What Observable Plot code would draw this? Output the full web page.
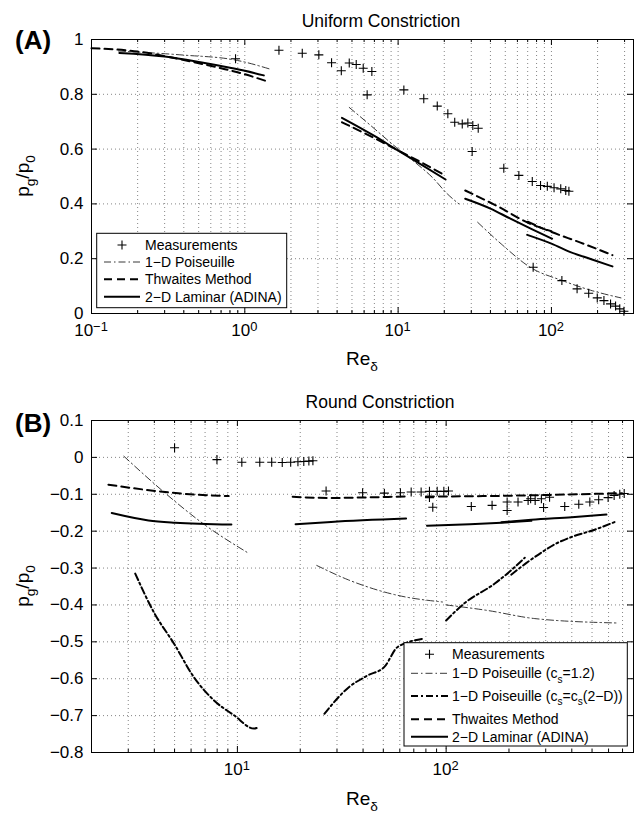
<!DOCTYPE html>
<html>
<head>
<meta charset="utf-8">
<script src="https://cdn.jsdelivr.net/npm/d3@7"></script>
<script src="https://cdn.jsdelivr.net/npm/@observablehq/plot@0.6"></script>
<style>
  body { margin: 0; background: #fff; }
  #chart { width: 637px; }
  #chart svg { display: block; }
</style>
</head>
<body>
<div id="chart"></div>
<script>
// ---------- (A) Uniform constriction: pg/p0 against Re_delta ----------
const uniformMeasured = [
  [0.87, 0.93], [1.67, 0.961], [2.37, 0.95], [3.04, 0.944], [3.68, 0.915],
  [4.26, 0.886], [4.8, 0.914], [5.33, 0.909], [5.92, 0.895], [6.74, 0.883],
  [6.28, 0.798], [10.9, 0.816], [14.7, 0.784], [18.0, 0.757], [21.1, 0.729],
  [23.4, 0.698], [26.2, 0.692], [28.5, 0.695], [30.7, 0.686], [33.3, 0.676],
  [30.4, 0.591], [48.9, 0.53], [61.3, 0.504], [75, 0.482], [84.9, 0.467],
  [94, 0.464], [104, 0.459], [115, 0.455], [124, 0.449], [130, 0.446],
  [76, 0.169], [117, 0.12], [147, 0.09], [175, 0.074], [199, 0.057],
  [220, 0.047], [243, 0.035], [262, 0.027], [279, 0.017], [297, 0.008]
];
const uniformPoiseuille = [
  [[0.15, 0.958], [0.4, 0.943], [0.85, 0.926], [1.01, 0.917], [1.44, 0.893]],
  [[4.8, 0.752], [6.5, 0.69], [9.4, 0.613], [13, 0.55], [16.7, 0.497], [20.9, 0.437], [24.9, 0.40]],
  [[33, 0.333], [47, 0.254], [73.5, 0.167], [118, 0.12], [180, 0.085], [284, 0.057]]
];
const uniformThwaites = [
  [[0.1, 0.968], [0.2, 0.956], [0.4, 0.925], [0.7, 0.895], [1.0, 0.873], [1.4, 0.847]],
  [[4.3, 0.698], [7, 0.64], [10, 0.595], [14, 0.553], [20.4, 0.503]],
  [[27.4, 0.449], [45, 0.39], [73, 0.327], [100, 0.30]],
  [[70, 0.335], [89, 0.309], [163, 0.254], [250, 0.213]]
];
const uniformLaminar = [
  [[0.152, 0.951], [0.3, 0.938], [0.514, 0.917], [0.8, 0.897], [1.0, 0.886], [1.33, 0.869]],
  [[4.3, 0.714], [7, 0.648], [9.9, 0.596], [14, 0.545], [20.4, 0.489]],
  [[27.4, 0.419], [40, 0.383], [54, 0.346], [75, 0.307], [101, 0.273]],
  [[69.5, 0.287], [100, 0.255], [133, 0.224], [180, 0.199], [250, 0.172]]
];
const uniformYTicks = [0, 0.2, 0.4, 0.6, 0.8, 1];
const uniformXTicks = [0.1, 1, 10, 100];

// ---------- (B) Round constriction ----------
const roundMeasured = [
  [5.0, 0.026], [7.98, -0.006], [10.5, -0.013], [12.8, -0.013], [14.6, -0.013],
  [16.4, -0.014], [18.0, -0.013], [19.5, -0.012], [20.8, -0.011], [22.0, -0.01],
  [23.0, -0.009], [26.6, -0.091], [39.8, -0.096], [50.6, -0.097], [60.4, -0.096],
  [68, -0.094], [75.9, -0.094], [83.2, -0.092], [90.6, -0.092], [97.5, -0.092],
  [102.6, -0.091], [83.2, -0.109], [86.3, -0.135], [132, -0.133], [166, -0.13],
  [196, -0.121], [196, -0.144], [221, -0.121], [247, -0.117], [254, -0.112],
  [267, -0.117], [286, -0.112], [293, -0.136], [313, -0.108], [370, -0.133],
  [432, -0.127], [488, -0.121], [538, -0.115], [597, -0.109], [638, -0.103],
  [679, -0.1], [713, -0.098]
];
const roundPoiseuille = [
  [[2.86, 0.003], [4.51, -0.097], [7.02, -0.184], [11.1, -0.257]],
  [[24, -0.293], [34, -0.332], [58.6, -0.374], [96, -0.392]],
  [[100, -0.4], [158, -0.415], [266, -0.437], [667, -0.449]]
];
const roundPoiseuille2D = [
  [[3.24, -0.315], [3.98, -0.42], [4.97, -0.505], [6.19, -0.596], [7.73, -0.659], [9.63, -0.699], [12.0, -0.735], [12.7, -0.731]],
  [[26.1, -0.695], [34.2, -0.623], [42.1, -0.591], [50.6, -0.568], [58.6, -0.514], [78.7, -0.491]],
  [[100, -0.442], [122, -0.396], [171, -0.342], [205, -0.306], [238, -0.272]],
  [[205, -0.318], [240, -0.288], [286, -0.258], [330, -0.236], [398, -0.216], [515, -0.196], [643, -0.175]]
];
const roundThwaites = [
  [[2.41, -0.074], [4.04, -0.091], [6.28, -0.101], [9.08, -0.105]],
  [[18.4, -0.107], [28, -0.11], [45, -0.108], [65, -0.106]],
  [[80, -0.106], [150, -0.105], [300, -0.102], [692, -0.097]]
];
const roundLaminar = [
  [[2.5, -0.151], [3.75, -0.171], [5.03, -0.177], [9.36, -0.182]],
  [[19, -0.181], [28.1, -0.175], [64.3, -0.166]],
  [[81, -0.185], [130, -0.181], [184, -0.177], [256, -0.172]],
  [[184, -0.176], [256, -0.169], [400, -0.162], [586, -0.155]]
];
const roundYTicks = [0.1, 0, -0.1, -0.2, -0.3, -0.4, -0.5, -0.6, -0.7, -0.8];
const roundXTicks = [10, 100];

// ---------- line styles ----------
const lineStyle = {
  poiseuille:   { stroke: "#222", strokeWidth: 0.9, strokeDasharray: "7,3,1.5,3" },
  poiseuille2D: { stroke: "#000", strokeWidth: 2,   strokeDasharray: "7,3,2,3" },
  thwaites:     { stroke: "#000", strokeWidth: 2,   strokeDasharray: "8,5" },
  laminar:      { stroke: "#000", strokeWidth: 2 }
};
const FONT = "'Liberation Sans', Arial, Helvetica, sans-serif";
const WIDTH = 637, ML = 91, MR = 4;

// thin '+' marker
const plusSymbol = {
  draw(ctx) { const h = 4.5; ctx.moveTo(-h, 0); ctx.lineTo(h, 0); ctx.moveTo(0, -h); ctx.lineTo(0, h); }
};

const rows = segs => segs.flatMap((s, i) => s.map(([x, y]) => ({ x, y, seg: i })));

function logMinor(domain) {
  const out = [];
  for (let e = Math.floor(Math.log10(domain[0])); e <= Math.ceil(Math.log10(domain[1])); e++)
    for (let k = 2; k <= 9; k++) {
      const v = k * Math.pow(10, e);
      if (v > domain[0] * 1.0001 && v < domain[1] * 0.9999) out.push(v);
    }
  return out;
}

const fmtY = d => (d < 0 ? "\u2212" + Math.abs(d) : String(d));

function panel({ xDomain, yDomain, height, marginTop, marginBottom, yTicks, xTicks, series, measured }) {
  const plotH = height - marginTop - marginBottom;
  const plotW = WIDTH - ML - MR;
  const minor = logMinor(xDomain);
  const innerMajor = xTicks.filter(v => v > xDomain[0] * 1.0001 && v < xDomain[1] * 0.9999);
  const innerY = yTicks.filter(v => v > yDomain[0] + 1e-9 && v < yDomain[1] - 1e-9);
  const grid = { stroke: "#333", strokeOpacity: 0.75, strokeWidth: 0.8, strokeDasharray: "1,3" };
  const marks = [
    Plot.ruleX([...minor, ...innerMajor], { x: d => d, ...grid }),
    Plot.ruleY(innerY, { y: d => d, ...grid }),
    ...series.map(([segs, style]) =>
      Plot.line(rows(segs), { x: "x", y: "y", z: "seg", curve: "monotone-x", ...style })),
    Plot.dot(measured, { x: d => d[0], y: d => d[1], symbol: plusSymbol, fill: "none", stroke: "#000", strokeWidth: 1.1 }),
    // inward ticks on all four sides
    Plot.tickX(xTicks, { x: d => d, insetTop: plotH - 6, stroke: "#000" }),
    Plot.tickX(xTicks, { x: d => d, insetBottom: plotH - 6, stroke: "#000" }),
    Plot.tickX(minor, { x: d => d, insetTop: plotH - 3, stroke: "#000" }),
    Plot.tickX(minor, { x: d => d, insetBottom: plotH - 3, stroke: "#000" }),
    Plot.tickY(yTicks, { y: d => d, insetRight: plotW - 6, stroke: "#000" }),
    Plot.tickY(yTicks, { y: d => d, insetLeft: plotW - 6, stroke: "#000" }),
    Plot.text(yTicks, { y: d => d, text: fmtY, frameAnchor: "left", textAnchor: "end", dx: -8, fontSize: 17, fill: "#000" }),
    Plot.frame({ stroke: "#000", strokeWidth: 1 })
  ];
  return Plot.plot({
    width: WIDTH, height, marginLeft: ML, marginRight: MR, marginTop, marginBottom,
    x: { type: "log", domain: xDomain, axis: null },
    y: { domain: yDomain, axis: null },
    style: { fontFamily: FONT, fontSize: "17px", background: "#fff", color: "#000", overflow: "visible" },
    marks
  });
}

// text with sub/superscript parts: [[text, ""|"sub"|"sup"], ...]
function richText(g, x, y, parts, opts = {}) {
  const size = opts.size || 17;
  const small = opts.small || 0.72;
  const t = g.append("text")
    .attr("x", x).attr("y", y)
    .attr("text-anchor", opts.anchor || "middle")
    .attr("font-size", size)
    .attr("font-weight", opts.weight || "normal")
    .attr("font-family", FONT)
    .attr("fill", "#000");
  if (opts.rotate) t.attr("transform", `rotate(${opts.rotate},${x},${y})`);
  let shift = 0;
  for (const [s, mode] of parts) {
    const target = mode === "sub" ? 0.3 * size : mode === "sup" ? -(opts.supShift || 0.45) * size : 0;
    const span = t.append("tspan").text(s).attr("dy", target - shift);
    if (mode) span.attr("font-size", size * small);
    shift = target;
  }
  return t;
}

function scaleFn(plot, name) {
  const s = plot.scale(name);
  if (s && typeof s.apply === "function") return v => s.apply(v);
  return d3.scaleLog(s.domain, s.range);
}

function decorate(plot, cfg) {
  const svg = d3.select(plot);
  const g = svg.append("g");
  const fx = scaleFn(plot, "x");
  // x tick labels as powers of ten
  for (const v of cfg.xTicks) {
    const e = Math.round(Math.log10(v));
    richText(g, fx(v), cfg.xTickY, [["10", ""], [e < 0 ? "\u2212" + Math.abs(e) : String(e), "sup"]],
      { size: 17, small: 0.76, supShift: 0.3 });
  }
  richText(g, cfg.titleX, cfg.titleY, [[cfg.title, ""]], { size: 17.5 });
  richText(g, 15, cfg.tagY, [[cfg.tag, ""]], { size: 26, weight: "bold", anchor: "start" });
  richText(g, cfg.yLabelX, cfg.yLabelY, [["p", ""], ["g", "sub"], ["/p", ""], ["0", "sub"]], { size: 19, rotate: -90 });
  richText(g, cfg.xLabelX, cfg.xLabelY, [["Re", ""], ["\u03b4", "sub"]], { size: 19 });

  // legend
  const L = cfg.legend;
  const lg = svg.append("g");
  lg.append("rect").attr("x", L.x0).attr("y", L.y0).attr("width", L.x1 - L.x0).attr("height", L.y1 - L.y0)
    .attr("fill", "#fff").attr("stroke", "#000").attr("stroke-width", 1);
  L.items.forEach(item => {
    const yy = item.y;
    if (item.kind === "marker") {
      const cx = (L.lx0 + L.lx1) / 2;
      lg.append("path").attr("d", `M${cx - 4.5},${yy}H${cx + 4.5}M${cx},${yy - 4.5}V${yy + 4.5}`)
        .attr("stroke", "#000").attr("stroke-width", 1.1).attr("fill", "none");
    } else {
      const st = lineStyle[item.kind];
      const p = lg.append("line").attr("x1", L.lx0).attr("x2", L.lx1).attr("y1", yy).attr("y2", yy)
        .attr("stroke", st.stroke).attr("stroke-width", st.strokeWidth);
      if (st.strokeDasharray) p.attr("stroke-dasharray", st.strokeDasharray);
    }
    richText(lg, L.tx, yy + 5, item.parts, { size: 14, anchor: "start" });
  });
}

const chart = document.getElementById("chart");

// ---- panel A ----
const plotA = panel({
  xDomain: [0.1, 343], yDomain: [0, 1], height: 380, marginTop: 39, marginBottom: 67,
  yTicks: uniformYTicks, xTicks: uniformXTicks, measured: uniformMeasured,
  series: [
    [uniformPoiseuille, lineStyle.poiseuille],
    [uniformThwaites, lineStyle.thwaites],
    [uniformLaminar, lineStyle.laminar]
  ]
});
chart.appendChild(plotA);
decorate(plotA, {
  xTicks: uniformXTicks, xTickY: 336,
  title: "Uniform Constriction", titleX: 381, titleY: 27,
  tag: "(A)", tagY: 49,
  yLabelX: 29, yLabelY: 176, xLabelX: 362, xLabelY: 365,
  legend: {
    x0: 96.7, y0: 233.3, x1: 286.7, y1: 307.7, lx0: 104, lx1: 140, tx: 145,
    items: [
      { kind: "marker", y: 245, parts: [["Measurements", ""]] },
      { kind: "poiseuille", y: 262, parts: [["1\u2212D Poiseuille", ""]] },
      { kind: "thwaites", y: 279.3, parts: [["Thwaites Method", ""]] },
      { kind: "laminar", y: 296.7, parts: [["2\u2212D Laminar (ADINA)", ""]] }
    ]
  }
});

// ---- panel B ----
const plotB = panel({
  xDomain: [2, 790], yDomain: [-0.8, 0.1], height: 435, marginTop: 40, marginBottom: 63,
  yTicks: roundYTicks, xTicks: roundXTicks, measured: roundMeasured,
  series: [
    [roundPoiseuille, lineStyle.poiseuille],
    [roundPoiseuille2D, lineStyle.poiseuille2D],
    [roundThwaites, lineStyle.thwaites],
    [roundLaminar, lineStyle.laminar]
  ]
});
chart.appendChild(plotB);
decorate(plotB, {
  xTicks: roundXTicks, xTickY: 395,
  title: "Round Constriction", titleX: 380, titleY: 28,
  tag: "(B)", tagY: 52,
  yLabelX: 29, yLabelY: 206, xLabelX: 362, xLabelY: 425,
  legend: {
    x0: 404, y0: 262.7, x1: 627.3, y1: 366, lx0: 411, lx1: 448, tx: 452,
    items: [
      { kind: "marker", y: 274.3, parts: [["Measurements", ""]] },
      { kind: "poiseuille", y: 293.3, parts: [["1\u2212D Poiseuille (c", ""], ["s", "sub"], ["=1.2)", ""]] },
      { kind: "poiseuille2D", y: 316, parts: [["1\u2212D Poiseuille (c", ""], ["s", "sub"], ["=c", ""], ["s", "sub"], ["(2\u2212D))", ""]] },
      { kind: "thwaites", y: 339.3, parts: [["Thwaites Method", ""]] },
      { kind: "laminar", y: 356.7, parts: [["2\u2212D Laminar (ADINA)", ""]] }
    ]
  }
});
</script>
</body>
</html>
